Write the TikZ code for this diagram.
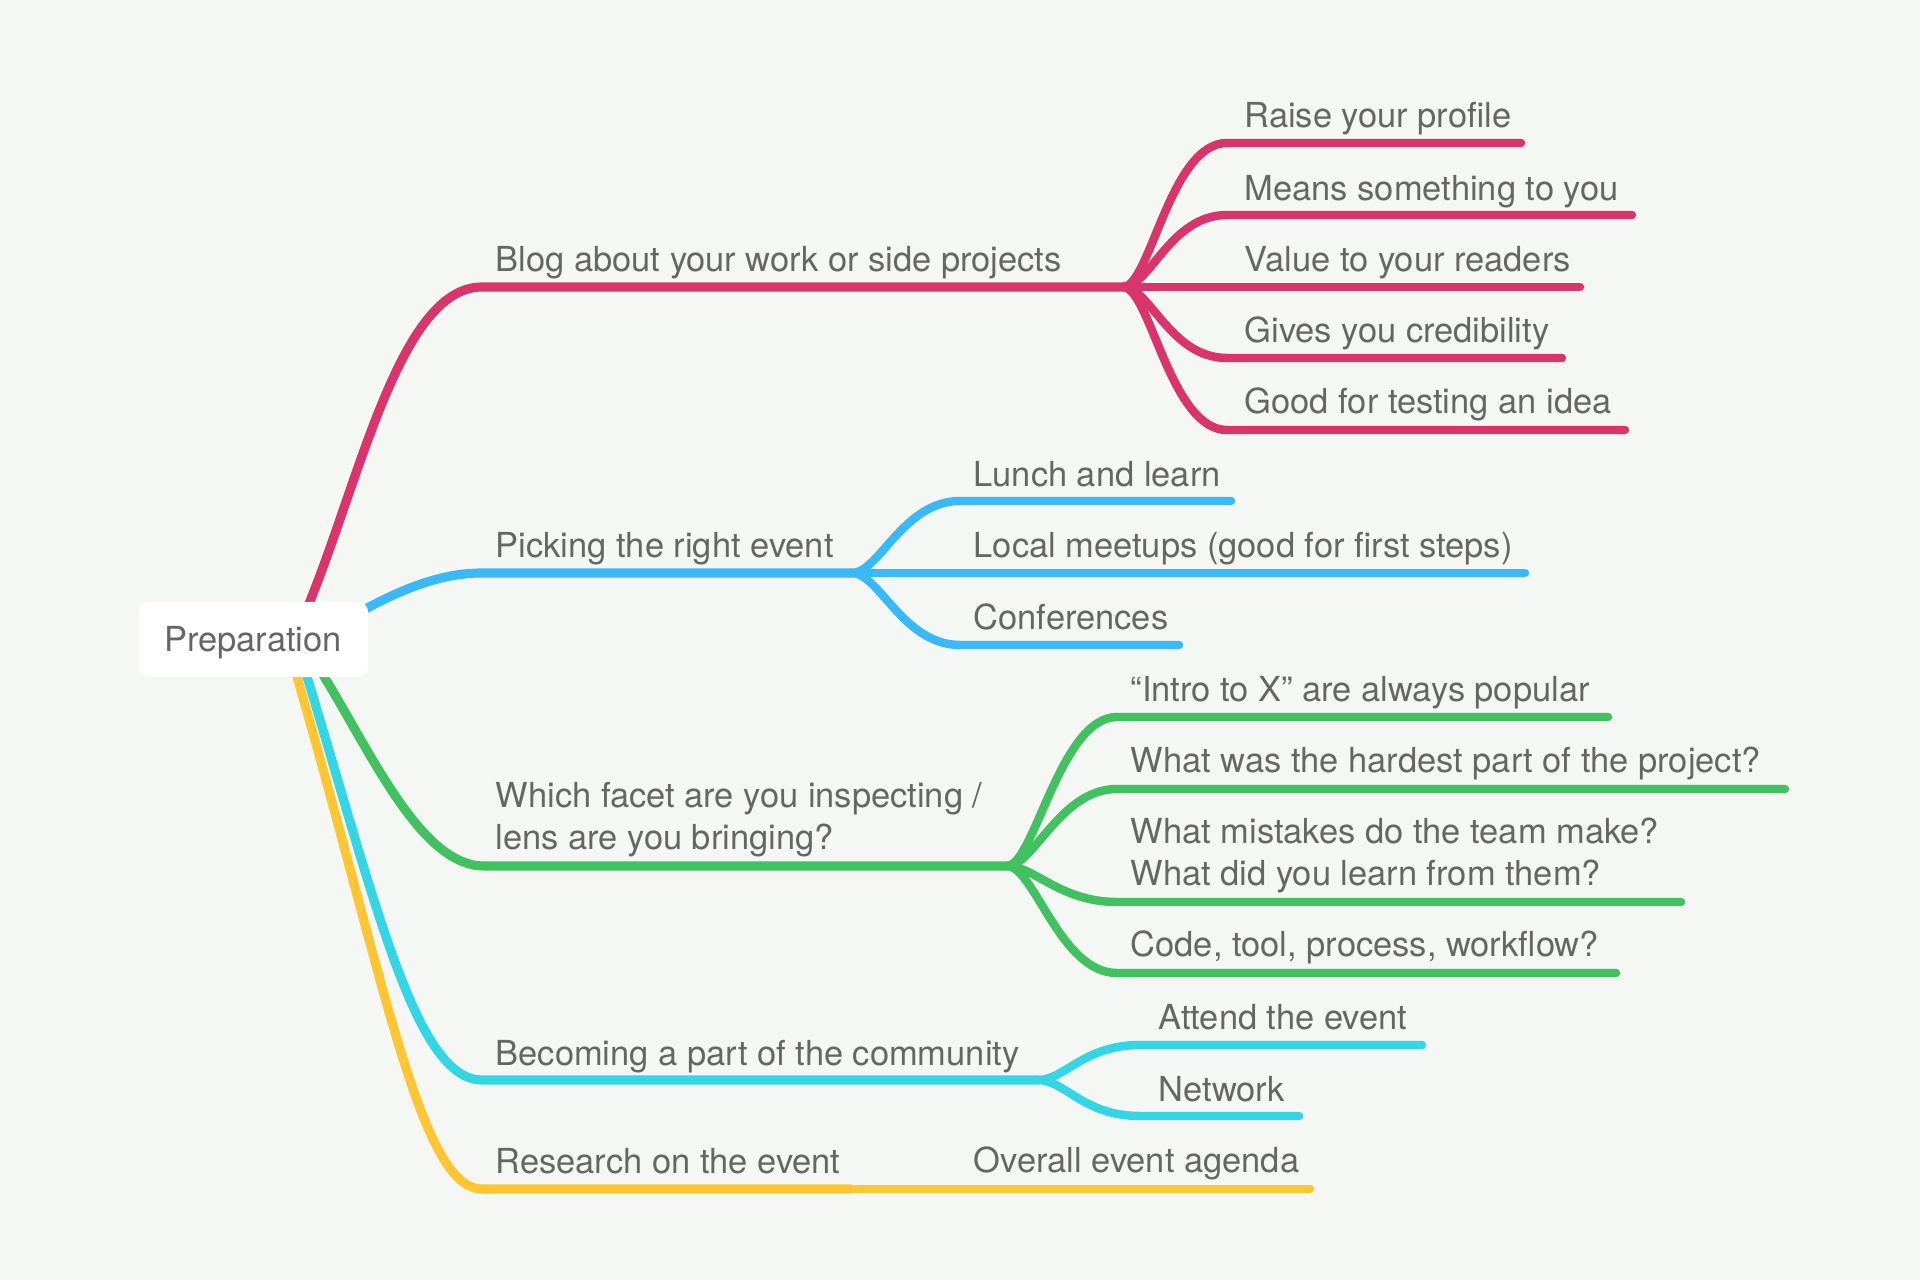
\documentclass[tikz,border=0pt]{standalone}
\usepackage{fontspec}
\setmainfont{TeX Gyre Heros}
\usetikzlibrary{calc}
\definecolor{bg}{HTML}{F5F7F4}
\definecolor{txt}{HTML}{666666}
\definecolor{cpink}{HTML}{D9346B}
\definecolor{cblue}{HTML}{39B9F7}
\definecolor{cgreen}{HTML}{42C160}
\definecolor{ccyan}{HTML}{34D5E5}
\definecolor{cyel}{HTML}{FFC533}
\begin{document}
\begin{tikzpicture}[x=0.01cm,y=-0.01cm,
  lbl/.style={anchor=base west, inner sep=0pt, text=txt, align=left,
    font=\fontsize{9.8pt}{12pt}\selectfont},
  br/.style={line width=2.6pt, line cap=round},
  sub/.style={line width=2.4pt, line cap=round},
  rootbox/.style={fill=white, rounded corners=2.8pt, inner sep=0pt,
    minimum width=2.29cm, minimum height=0.75cm}
]
\fill[bg] (0,0) rectangle (1920,1280);
\useasboundingbox (0,0) rectangle (1920,1280);

% ---- coordinates ----
\coordinate (p0) at (308,606);
\coordinate (pC) at (482,287);
\coordinate (pJ) at (1123,287);
\coordinate (b0) at (360,612);
\coordinate (bC) at (482,573);
\coordinate (bJ) at (852,573);
\coordinate (g0) at (320,670);
\coordinate (gC) at (484,866);
\coordinate (gJ) at (1007,866);
\coordinate (c0) at (305,670);
\coordinate (cC) at (482,1080);
\coordinate (cJ) at (1038,1080);
\coordinate (y0) at (295,670);
\coordinate (yC) at (482,1189);
\coordinate (yJ) at (851,1189);

% pink children
\coordinate (p1s) at (1227,143); \coordinate (p1e) at (1521,143);
\coordinate (p2s) at (1227,215); \coordinate (p2e) at (1632,215);
\coordinate (p3s) at (1227,287); \coordinate (p3e) at (1580,287);
\coordinate (p4s) at (1227,358); \coordinate (p4e) at (1562,358);
\coordinate (p5s) at (1227,430); \coordinate (p5e) at (1625,430);
% blue children
\coordinate (b1s) at (960,501); \coordinate (b1e) at (1231,501);
\coordinate (b2s) at (960,573); \coordinate (b2e) at (1525,573);
\coordinate (b3s) at (960,645); \coordinate (b3e) at (1179,645);
% green children
\coordinate (g1s) at (1117,717); \coordinate (g1e) at (1608,717);
\coordinate (g2s) at (1117,789); \coordinate (g2e) at (1785,789);
\coordinate (g3s) at (1117,902); \coordinate (g3e) at (1681,902);
\coordinate (g4s) at (1117,973); \coordinate (g4e) at (1616,973);
% cyan children
\coordinate (c1s) at (1140,1045); \coordinate (c1e) at (1422,1045);
\coordinate (c2s) at (1140,1116); \coordinate (c2e) at (1299,1116);
% yellow child
\coordinate (y1e) at (1310,1189);

% ---- main branches ----
\draw[br,cyel] (y0) .. controls (385,980) and (420,1189) .. (yC) -- (yJ);
\draw[br,ccyan] (c0) .. controls (375,900) and (415,1080) .. (cC) -- (cJ);
\draw[br,cgreen] (g0) .. controls (370,750) and (420,866) .. (gC) -- (gJ);
\draw[br,cblue] (b0) .. controls (400,590) and (440,573) .. (bC) -- (bJ);
\draw[br,cpink] (p0) .. controls (360,480) and (400,287) .. (pC) -- (pJ);

% ---- sub branches ----
\foreach \k in {1,...,5}{
  \draw[sub,cpink] (pJ) .. controls +(27,0) and +(-57,0) .. (p\k s) -- (p\k e);
}
\foreach \k in {1,2,3}{
  \draw[sub,cblue] (bJ) .. controls +(27,0) and +(-57,0) .. (b\k s) -- (b\k e);
}
\foreach \k in {1,...,4}{
  \draw[sub,cgreen] (gJ) .. controls +(27,0) and +(-57,0) .. (g\k s) -- (g\k e);
}
\foreach \k in {1,2}{
  \draw[sub,ccyan] (cJ) .. controls +(27,0) and +(-57,0) .. (c\k s) -- (c\k e);
}
\draw[sub,cyel] (yJ) -- (y1e);

% ---- root ----
\node[rootbox] (root) at (253.5,639.5) {};
\node[lbl, anchor=base] (roottext) at (253,652) {Preparation};

% ---- main labels ----
\node[lbl] (tblog) at (495,272) {Blog about your work or side projects};
\node[lbl] (tpick) at (495,558) {Picking the right event};
\node[lbl] (tfacet) at (495,850) {Which facet are you inspecting /\\lens are you bringing?};
\node[lbl] (tcomm) at (495,1066) {Becoming a part of the community};
\node[lbl] (tres) at (495,1174) {Research on the event};

% ---- pink labels ----
\node[lbl] (t11) at (1244,128) {Raise your profile};
\node[lbl] (t12) at (1244,201) {Means something to you};
\node[lbl] (t13) at (1244,272) {Value to your readers};
\node[lbl] (t14) at (1244,343) {Gives you credibility};
\node[lbl] (t15) at (1244,414) {Good for testing an idea};
% blue labels
\node[lbl] (t21) at (973,487) {Lunch and learn};
\node[lbl] (t22) at (973,558) {Local meetups (good for first steps)};
\node[lbl] (t23) at (973,630) {Conferences};
% green labels
\node[lbl] (t31) at (1130,702) {“Intro to X” are always popular};
\node[lbl] (t32) at (1130,773) {What was the hardest part of the project?};
\node[lbl] (t33) at (1130,886) {What mistakes do the team make?\\What did you learn from them?};
\node[lbl] (t34) at (1130,957) {Code, tool, process, workflow?};
% cyan labels
\node[lbl] (t41) at (1158,1030) {Attend the event};
\node[lbl] (t42) at (1158,1102) {Network};
% yellow label
\node[lbl] (t51) at (973,1173) {Overall event agenda};
\end{tikzpicture}
\end{document}
